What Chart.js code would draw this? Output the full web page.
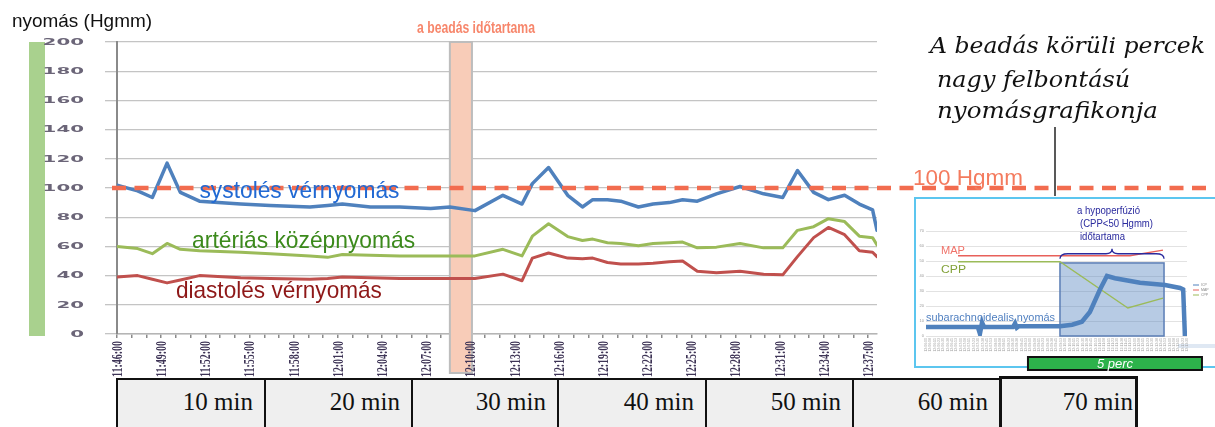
<!DOCTYPE html>
<html>
<head>
<meta charset="utf-8">
<script src="https://cdn.jsdelivr.net/npm/chart.js@4.4.1/dist/chart.umd.min.js"></script>
<style>
html,body{margin:0;padding:0;background:#fff;}
body{width:1215px;height:427px;overflow:hidden;position:relative;font-family:"Liberation Sans",Arial,sans-serif;}
#main{position:absolute;left:0;top:0;z-index:1;}
#inset{position:absolute;left:914px;top:196px;z-index:2;}
.box{position:absolute;top:378px;height:60px;background:#efefef;border:2px solid #111;box-sizing:border-box;
  font-family:"Liberation Serif","Times New Roman",serif;font-size:25px;line-height:25px;color:#111;
  text-align:right;padding-top:9px;padding-right:11px;z-index:3;white-space:nowrap;}
.box.last{top:376px;border-width:3px 3px 3px 3px;padding-top:10px;padding-right:2px;}
</style>
</head>
<body>
<canvas id="main" width="1215" height="427"></canvas>
<canvas id="inset" width="301" height="178"></canvas>
<div id="boxes"></div>
<script>
// ---------------- main chart data ----------------
// sample times in minutes after 11:46:00
const minutes   = [0,1.4,2.4,3.4,4.3,5.6,8.4,10.4,13.1,14.3,15.3,17.2,19.2,21.3,22.6,24.3,26.2,27.5,28.2,29.3,30.6,31.6,32.3,33.3,34.2,35.4,36.4,37.5,38.4,39.4,40.7,42.3,43.9,45.2,46.2,47.3,48.3,49.4,50.4,51.3,51.6];
const systolic  = [102,98,93.5,117,97,91,89,88,87,88,89,87,87,86,87,84.5,95,89,103,114,95,87,92,92,91,87,89,90,92,91,96,101,96,93.5,112,97,92,95,89,85,71];
const meanArt   = [60,58.5,55,62,58,57,56,55,53.5,52.5,54.5,54,53.5,53.5,53.5,53.5,58,53.5,67,75.5,66.7,64,65,62.5,62,60.5,62,62.5,63,59,59.5,62,59,59,71,73.5,79,77,67,66,61];
const diastolic = [39,40,37.5,35,37,40,38.5,38,37.5,38,39,38.5,38,38,38,38,41,36.5,52,55.5,52,51.5,52,49,48,48,48.5,49.5,50,43,42,43,41,40.5,53,66,73,68,57,56,53];
const tickLabels = ['11:46:00','11:49:00','11:52:00','11:55:00','11:58:00','12:01:00','12:04:00','12:07:00','12:10:00','12:13:00','12:16:00','12:19:00','12:22:00','12:25:00','12:28:00','12:31:00','12:34:00','12:37:00'];
const infusion = [22.6, 24.1];      // minutes: "a beadás időtartama"
const threshold = 100;              // Hgmm reference line
const boxLabels = ['10 min','20 min','30 min','40 min','50 min','60 min','70 min'];

// ---------------- inset data ----------------
const icpT   = [0,0.92,1.49,1.55,1.61,1.67,2.5,2.56,2.61,2.67,3.85,4.2,4.48,4.71,5.0,5.2,5.43,6.15,6.87,7.3,7.39,7.44];
const icpV   = [6,6,6,1.5,9,6,6,8.5,5.5,6.5,6.5,7.5,9.5,16,31,40,38.5,35.5,34,32,31,0];
const mapT   = [0.92,3.85,5.86,6.81];
const mapV   = [53.5,53.5,53.5,57.3];
const cppT   = [0.92,3.85,5.8,6.81];
const cppV   = [49.5,49.5,18.7,25.3];
const hypoperfusion = [3.85, 6.84, 48.7];   // x from, x to, CPP level
const fivePercStart = 2.93;                  // minutes
const insetStartSec = 12*3600 + 6*60;        // inset axis start (12:06:00)

function fitText(ctx, text, x, y, o){
  ctx.save();
  ctx.font = o.font; ctx.fillStyle = o.color; ctx.textAlign = 'left';
  ctx.textBaseline = o.baseline || 'alphabetic';
  const w = ctx.measureText(text).width;
  const tw = o.width || w;
  let x0 = x;
  if (o.align === 'right') x0 = x - tw; else if (o.align === 'center') x0 = x - tw/2;
  ctx.translate(x0, y); ctx.scale(tw / w, 1); ctx.fillText(text, 0, 0);
  ctx.restore();
}

const mainDeco = {
  id: 'mainDeco',
  beforeDraw(chart){
    const c = chart.ctx, a = chart.chartArea;
    c.save();
    c.fillStyle = '#fff'; c.fillRect(0,0,chart.width,chart.height);
    c.fillStyle = '#a9d18e'; c.fillRect(29, a.top, 16, a.bottom - a.top + 2);
    c.restore();
  },
  beforeDatasetsDraw(chart){
    const c = chart.ctx, xs = chart.scales.x, a = chart.chartArea;
    const x0 = xs.getPixelForValue(infusion[0]), x1 = xs.getPixelForValue(infusion[1]);
    c.save();
    c.fillStyle = '#f8ccb8'; c.fillRect(x0, a.top, x1 - x0, 373 - a.top);
    c.strokeStyle = '#bdbdbd'; c.lineWidth = 2; c.strokeRect(x0, a.top, x1 - x0, 373 - a.top);
    c.restore();
  },
  afterDatasetsDraw(chart){
    const c = chart.ctx, xs = chart.scales.x, ys = chart.scales.y, a = chart.chartArea;
    // dashed 100 Hgmm line
    const yT = ys.getPixelForValue(threshold);
    c.save();
    c.strokeStyle = '#f26c4f'; c.lineWidth = 4.5; c.setLineDash([14, 8.5]);
    c.beginPath(); c.moveTo(112, yT); c.lineTo(1206, yT); c.stroke();
    c.restore();
    // y tick labels (wide)
    ys.ticks.forEach(t => {
      const s = String(t.value);
      fitText(c, s, 84, ys.getPixelForValue(t.value) + 0.5, {font:'bold 9px "DejaVu Sans"', color:'#6b6578', width: 13.8*s.length, align:'right', baseline:'middle'});
    });
    // x tick labels (rotated, condensed)
    xs.ticks.forEach(t => {
      const v = t.value;
      if (!Number.isInteger(v) || v % 3 !== 0) return;
      const lab = tickLabels[v/3];
      if (!lab) return;
      c.save();
      c.translate(xs.getPixelForValue(v) + 1, a.bottom + 7);
      c.rotate(-Math.PI/2);
      fitText(c, lab, 0, 0, {font:'bold 15px "Liberation Serif"', color:'#3e3456', width:36, align:'right', baseline:'middle'});
      c.restore();
    });
    // series labels
    fitText(c, 'systolés vérnyomás', xs.getPixelForValue(5.6), ys.getPixelForValue(93), {font:'24px "Liberation Sans"', color:'#2169d3', width:200});
    fitText(c, 'artériás középnyomás', xs.getPixelForValue(5.1), ys.getPixelForValue(59), {font:'24px "Liberation Sans"', color:'#3c8a1c', width:223});
    fitText(c, 'diastolés vérnyomás', xs.getPixelForValue(4.0), ys.getPixelForValue(25), {font:'24px "Liberation Sans"', color:'#8e1818', width:206});
    // title + annotations
    fitText(c, 'nyomás (Hgmm)', 12, 27, {font:'19px "Liberation Sans"', color:'#111', width:140});
    fitText(c, 'a beadás időtartama', 417, 33, {font:'bold 16px "Liberation Sans Narrow","Liberation Sans"', color:'#f7866b', width:118});
    fitText(c, '100 Hgmm', 913, 185, {font:'22px "Liberation Sans"', color:'#f47b5e', width:110});
    fitText(c, 'A beadás körüli percek', 930, 53, {font:'italic 23px "DejaVu Serif"', color:'#111', width:275});
    fitText(c, 'nagy felbontású', 937, 87, {font:'italic 23px "DejaVu Serif"', color:'#111', width:193});
    fitText(c, 'nyomásgrafikonja', 937, 118, {font:'italic 23px "DejaVu Serif"', color:'#111', width:221});
    c.save();
    c.strokeStyle = '#222'; c.lineWidth = 1.5;
    c.beginPath(); c.moveTo(1055, 127); c.lineTo(1055, 199); c.stroke();
    c.restore();
  }
};

new Chart(document.getElementById('main'), {
  type: 'line',
  data: { datasets: [
    {label:'systolés vérnyomás', data: minutes.map((t,i)=>({x:t, y:systolic[i]})), borderColor:'#4f81bd', borderWidth:3.5},
    {label:'artériás középnyomás', data: minutes.map((t,i)=>({x:t, y:meanArt[i]})), borderColor:'#9bbb59', borderWidth:3},
    {label:'diastolés vérnyomás', data: minutes.map((t,i)=>({x:t, y:diastolic[i]})), borderColor:'#c0504d', borderWidth:3}
  ]},
  options: {
    responsive:false, animation:false, devicePixelRatio:1,
    layout:{padding:{left:0, top:42, right:338, bottom:0}},
    plugins:{legend:{display:false}, tooltip:{enabled:false}},
    elements:{point:{radius:0}, line:{tension:0, borderJoinStyle:'round', borderCapStyle:'round'}},
    scales:{
      x:{type:'linear', min:0, max:51.6, afterFit(s){ s.height = 93; },
        grid:{drawOnChartArea:false, drawTicks:true, tickLength:4, color:'#8a8a8a', lineWidth:1.5},
        border:{color:'#b5b5b5', width:1.5},
        ticks:{stepSize:1, includeBounds:false, autoSkip:false, maxTicksLimit:200, minRotation:90, maxRotation:90, padding:3,
          font:{family:'"Liberation Serif", serif', size:11}, color:'rgba(0,0,0,0)',
          callback:()=> ''}},
      y:{min:0, max:200, afterFit(s){ s.width = 117; },
        grid:{color:'#c4c4c4', lineWidth:1.3, tickLength:12, drawTicks:true},
        border:{color:'#8a8a8a', width:2},
        ticks:{stepSize:20, display:false}}
    }
  },
  plugins:[mainDeco]
});

// ---------------- inset chart ----------------
function hms(sec){
  const h = Math.floor(sec/3600), m = Math.floor(sec%3600/60), s = Math.round(sec%60);
  return h + ':' + String(m).padStart(2,'0') + ':' + String(s).padStart(2,'0');
}
const insetDeco = {
  id:'insetDeco',
  beforeDraw(chart){
    const c = chart.ctx;
    c.save();
    c.fillStyle = '#fff'; c.fillRect(0,0,chart.width,chart.height);
    c.strokeStyle = '#5cc6ef'; c.lineWidth = 2; c.strokeRect(1, 2, chart.width + 6, 169);
    c.fillStyle = '#dfe8f3'; c.fillRect(264, 148, 40, 4);
    c.restore();
  },
  beforeDatasetsDraw(chart){
    const c = chart.ctx, xs = chart.scales.x, ys = chart.scales.y;
    const x0 = xs.getPixelForValue(hypoperfusion[0]), x1 = xs.getPixelForValue(hypoperfusion[1]);
    const y0 = ys.getPixelForValue(0), y1 = ys.getPixelForValue(hypoperfusion[2]);
    c.save();
    c.fillStyle = 'rgba(84,130,190,0.42)'; c.fillRect(x0, y1, x1-x0, y0-y1);
    c.strokeStyle = '#5a7db5'; c.lineWidth = 1.5; c.strokeRect(x0, y1, x1-x0, y0-y1);
    c.restore();
  },
  afterDraw(chart){
    const c = chart.ctx, xs = chart.scales.x, ys = chart.scales.y;
    fitText(c, 'MAP', 27, 58, {font:'11.5px "Liberation Sans"', color:'#f0736a', width:24});
    fitText(c, 'CPP', 27, 77, {font:'11.5px "Liberation Sans"', color:'#83a23a', width:25});
    fitText(c, 'subarachnoidealis nyomás', 12, 125, {font:'11.5px "Liberation Sans"', color:'#4f7fc0', width:129});
    fitText(c, 'a hypoperfúzió', 163, 18, {font:'11px "Liberation Sans"', color:'#2a2a9e', width:63});
    fitText(c, '(CPP<50 Hgmm)', 166, 31, {font:'11px "Liberation Sans"', color:'#2a2a9e', width:73});
    fitText(c, 'időtartama', 166, 44, {font:'11px "Liberation Sans"', color:'#2a2a9e', width:45});
    // brace over hypoperfusion interval
    const bx0 = xs.getPixelForValue(hypoperfusion[0]), bx1 = xs.getPixelForValue(hypoperfusion[1]);
    const by = ys.getPixelForValue(51.5), bm = (bx0+bx1)/2, bt = by - 10;
    c.save(); c.strokeStyle = '#2a2a9e'; c.lineWidth = 1.3;
    c.beginPath();
    c.moveTo(bx0, by); c.quadraticCurveTo(bx0, by-5, bx0+8, by-5); c.lineTo(bm-6, by-5); c.quadraticCurveTo(bm, by-5, bm, bt);
    c.quadraticCurveTo(bm, by-5, bm+6, by-5); c.lineTo(bx1-8, by-5); c.quadraticCurveTo(bx1, by-5, bx1, by);
    c.stroke(); c.restore();
    // tiny legend
    const leg = [['ICP','#4f81bd'],['MAP','#e8605a'],['CPP','#9bbb59']];
    leg.forEach((l,i)=>{
      c.save(); c.strokeStyle = l[1]; c.lineWidth = 1;
      c.beginPath(); c.moveTo(279, 89+5*i); c.lineTo(285, 89+5*i); c.stroke(); c.restore();
      fitText(c, l[0], 287, 89+5*i, {font:'3.5px "Liberation Sans"', color:'#888', baseline:'middle'});
    });
    // 5 perc bar
    const g0 = xs.getPixelForValue(fivePercStart), g1 = xs.getPixelForValue(fivePercStart + 5);
    c.save();
    c.fillStyle = '#2db24b'; c.fillRect(g0, 161, g1-g0, 13);
    c.strokeStyle = '#111'; c.lineWidth = 2; c.strokeRect(g0, 161, g1-g0, 13);
    c.restore();
    fitText(c, '5 perc', (g0+g1)/2, 172, {font:'italic 13px "Liberation Sans"', color:'#fff', align:'center'});
  }
};

new Chart(document.getElementById('inset'), {
  type:'line',
  data:{ datasets:[
    {label:'ICP', data: icpT.map((t,i)=>({x:t,y:icpV[i]})), borderColor:'#4f81bd', borderWidth:4.5},
    {label:'MAP', data: mapT.map((t,i)=>({x:t,y:mapV[i]})), borderColor:'#e8605a', borderWidth:1.3},
    {label:'CPP', data: cppT.map((t,i)=>({x:t,y:cppV[i]})), borderColor:'#9bbb59', borderWidth:1.3}
  ]},
  options:{
    responsive:false, animation:false, devicePixelRatio:1,
    layout:{padding:{left:0, top:35, right:28, bottom:0}},
    plugins:{legend:{display:false}, tooltip:{enabled:false}},
    elements:{point:{radius:0}, line:{tension:0}},
    scales:{
      x:{type:'linear', min:0, max:7.5, afterFit(s){ s.height = 38; },
        grid:{drawOnChartArea:false, drawTicks:false},
        border:{display:false},
        ticks:{stepSize:0.125, includeBounds:false, autoSkip:false, maxTicksLimit:200, minRotation:90, maxRotation:90, padding:2,
          font:{size:3.5}, color:'#a0a0a0', callback:(v)=> hms(insetStartSec + v*60)}},
      y:{min:0, max:70, afterFit(s){ s.width = 12; },
        grid:{color:'#e2e2e2', lineWidth:1, drawTicks:false},
        border:{display:false},
        ticks:{stepSize:10, font:{size:4}, color:'#999', padding:2}}
    }
  },
  plugins:[insetDeco]
});

// ---------------- bottom time boxes ----------------
const boxEdges = [117,265,412,558,706,853,1000,1137];
const boxesEl = document.getElementById('boxes');
boxLabels.forEach((lab,i)=>{
  const d = document.createElement('div');
  d.className = 'box' + (i === boxLabels.length-1 ? ' last' : '');
  d.style.left = (boxEdges[i]-1) + 'px';
  d.style.width = (boxEdges[i+1]-boxEdges[i]+2) + 'px';
  d.textContent = lab;
  boxesEl.appendChild(d);
});
</script>
</body>
</html>
